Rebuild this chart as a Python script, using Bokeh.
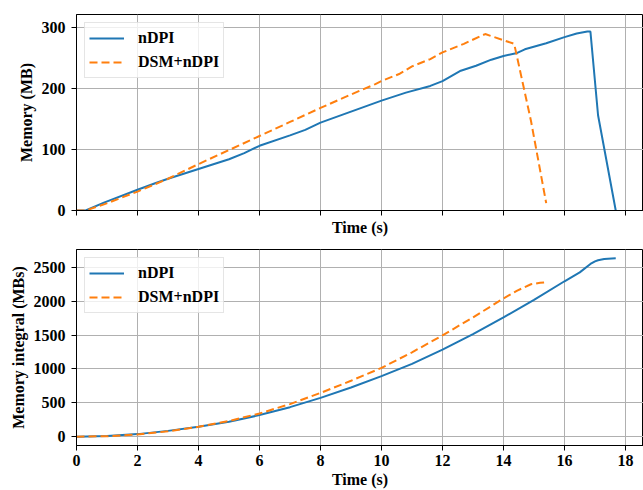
from bokeh.plotting import figure
from bokeh.layouts import column
from bokeh.models import Range1d, FixedTicker, Legend, LegendItem
from bokeh.embed import file_html
from bokeh.resources import INLINE

# ---------------- data ----------------
series_names = ["nDPI", "DSM+nDPI"]

# Top panel: memory (MB) over time (s)
t_mem_ndpi = [0, 0.3, 0.9, 2, 2.6, 3, 4, 5, 5.5, 6, 7, 7.5, 8, 9, 10, 10.8, 11.6,
              12, 12.6, 13.1, 13.6, 14, 14.45, 14.7, 15.4, 16, 16.4, 16.75, 16.85,
              17.1, 17.68]
mem_ndpi = [0, 0, 13, 34, 45, 52, 68, 84, 94, 106, 123, 132, 144, 162, 180, 193, 204,
            212, 229, 237, 247, 253, 258, 264, 274, 284, 290, 293, 293,
            156, 0]

t_mem_dsm = [0, 0.3, 0.9, 2, 3, 4, 5, 6, 7, 8, 9, 9.8, 10, 10.6, 11, 11.6, 12,
             12.7, 13.4, 14.35, 14.9, 15.4]
mem_dsm = [0, 0, 10, 31, 52, 76, 99, 122, 145, 168, 190, 207, 212, 224, 236, 248, 259,
           273, 289, 273, 147, 12]

# Bottom panel: memory integral (MBs) over time (s)
t_int_ndpi = [0, 1, 2, 3, 4, 5, 6, 7, 8, 9, 10, 11, 12, 13, 14, 15, 16, 16.5,
              16.85, 17.0, 17.1, 17.3, 17.68]
int_ndpi = [0, 8, 37, 85, 145, 220, 318, 435, 572, 725, 893, 1075, 1285, 1515, 1760,
            2020, 2294, 2425, 2550, 2588, 2605, 2622, 2632]

t_int_dsm = [0, 1, 2, 3, 4, 5, 6, 7, 8, 9, 10, 11, 12, 13, 14, 14.45, 14.9, 15.2, 15.4]
int_dsm = [0, 6, 32, 78, 145, 230, 342, 480, 645, 825, 1015, 1245, 1495, 1760, 2040,
           2157, 2250, 2272, 2280]

x_ticks = [0, 2, 4, 6, 8, 10, 12, 14, 16, 18]
mem_ticks = [0, 100, 200, 300]
int_ticks = [0, 500, 1000, 1500, 2000, 2500]

# ---------------- styling ----------------
FONT = "Liberation Serif"
BLUE = "#1f77b4"
ORANGE = "#ff7f0e"
X_RANGE = (0, 18.59)


def make_fig(y_range, y_ticks, y_label, frame_h, top_border, bottom_border, show_xlabels):
    p = figure(frame_width=567, frame_height=frame_h,
               x_range=Range1d(*X_RANGE), y_range=Range1d(*y_range),
               output_backend="svg", toolbar_location=None,
               min_border_left=76, min_border_right=0,
               min_border_top=top_border, min_border_bottom=bottom_border)
    p.background_fill_color = "white"
    p.border_fill_color = "white"
    p.outline_line_color = "black"
    p.outline_line_width = 1
    p.xaxis.ticker = FixedTicker(ticks=x_ticks)
    p.yaxis.ticker = FixedTicker(ticks=y_ticks)
    for ax in p.axis:
        ax.axis_line_color = "black"
        ax.axis_line_width = 1
        ax.major_tick_line_color = "black"
        ax.major_tick_line_width = 1
        ax.major_tick_in = 0
        ax.major_tick_out = 5
        ax.minor_tick_line_color = None
        ax.major_label_text_font = FONT
        ax.major_label_text_font_style = "bold"
        ax.major_label_text_font_size = "16px"
        ax.major_label_text_color = "black"
        ax.axis_label_text_font = FONT
        ax.axis_label_text_font_style = "bold"
        ax.axis_label_text_font_size = "16px"
        ax.axis_label_text_color = "black"
    p.yaxis.major_label_standoff = 6
    p.yaxis.axis_label_standoff = 4
    p.yaxis.axis_label = y_label
    p.xaxis.axis_label = "Time (s)"
    if not show_xlabels:
        p.xaxis.major_label_overrides = {t: "" for t in x_ticks}
        p.xaxis.major_label_standoff = 0
        p.xaxis.axis_label_standoff = 3
    else:
        p.xaxis.major_label_standoff = 4
        p.xaxis.axis_label_standoff = 2
    p.grid.grid_line_color = "#b0b0b0"
    p.grid.grid_line_width = 1
    return p


def add_lines(p, t1, y1, t2, y2):
    r1 = p.line(t1, y1, line_color=BLUE, line_width=2)
    r2 = p.line(t2, y2, line_color=ORANGE, line_width=2, line_dash="8 4")
    legend = Legend(items=[LegendItem(label=series_names[0], renderers=[r1]),
                           LegendItem(label=series_names[1], renderers=[r2])],
                    location="top_left", margin=8, padding=4,
                    label_height=22, glyph_height=22, glyph_width=35,
                    label_standoff=14, spacing=2,
                    label_text_font=FONT, label_text_font_style="bold",
                    label_text_font_size="16px", label_text_color="black",
                    border_line_color="#cccccc", border_line_width=1,
                    background_fill_color="white", background_fill_alpha=0.8)
    p.add_layout(legend)


p1 = make_fig((0, 321), mem_ticks, "Memory (MB)", 196, 14, 28, False)
add_lines(p1, t_mem_ndpi, mem_ndpi, t_mem_dsm, mem_dsm)

p2 = make_fig((-131, 2763), int_ticks, "Memory integral (MBs)", 196, 11, 45, True)
add_lines(p2, t_int_ndpi, int_ndpi, t_int_dsm, int_dsm)

layout = column(p1, p2, spacing=0)
open("out.html", "w").write(file_html(layout, INLINE))
